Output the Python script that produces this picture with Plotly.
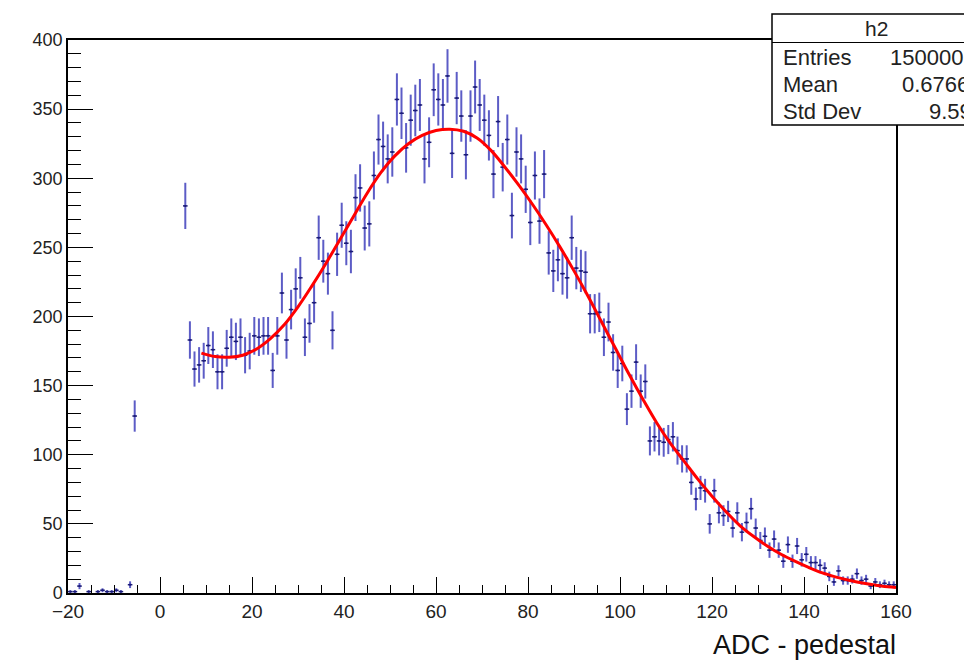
import numpy as np
import plotly.graph_objects as go

# ---------------- data ----------------
bin_centers = [b + 0.5 for b in range(-20, 160)]
counts = [
    1, 1, 5, 0, 1, 0, 1, 2, 1, 1,            # -19.5 .. -10.5
    2, 1, 0, 6, 128, 0, 0, 0, 0, 0,          # -9.5 .. -0.5
    0, 0, 0, 0, 0, 280, 183, 162, 165, 168,  # 0.5 .. 9.5
    179, 176, 160, 160, 177, 185, 182, 185, 172, 175,  # 10.5 .. 19.5
    186, 185, 186, 186, 161, 186, 217, 183, 205, 220,  # 20.5 .. 29.5
    228, 185, 195, 210, 257, 240, 231, 190, 245, 266,  # 30.5 .. 39.5
    253, 247, 286, 293, 264, 267, 302, 328, 323, 314,  # 40.5 .. 49.5
    319, 357, 347, 322, 342, 349, 353, 314, 326, 364,  # 50.5 .. 59.5
    357, 353, 374, 318, 358, 345, 317, 345, 366, 353,  # 60.5 .. 69.5
    342, 331, 303, 341, 308, 328, 273, 319, 314, 292,  # 70.5 .. 79.5
    268, 302, 269, 303, 246, 233, 241, 231, 228, 257,  # 80.5 .. 89.5
    235, 233, 232, 202, 202, 203, 185, 196, 174, 161,  # 90.5 .. 99.5
    166, 133, 146, 167, 146, 153, 110, 113, 110, 109,  # 100.5 .. 109.5
    111, 113, 103, 97, 97, 80, 68, 76, 74, 50,         # 110.5 .. 119.5
    74, 58, 56, 59, 47, 58, 44, 51, 61, 47,            # 120.5 .. 129.5
    38, 41, 31, 39, 31, 23, 35, 23, 34, 24,            # 130.5 .. 139.5
    28, 22, 22, 20, 18, 12, 8, 16, 9, 9,               # 140.5 .. 149.5
    10, 14, 9, 10, 5, 8, 6, 7, 6, 6,                   # 150.5 .. 159.5
]

fit_x = [9, 12, 15, 18, 21, 24, 27, 30, 33, 36, 39, 42, 45, 48, 51, 54, 57, 60,
         63, 66, 69, 72, 75, 78, 81, 84, 87, 90, 93, 96, 99, 102, 105, 108, 111,
         114, 117, 120, 123, 126, 129, 132, 135, 138, 141, 144, 147, 150, 153,
         156, 159, 160]
fit_y = [173.5, 171, 170.5, 172, 176.5, 184, 194, 207, 222, 238, 255, 272, 289,
         304, 316, 325, 331, 334.5, 335.5, 334, 329, 320, 308, 295, 281, 266,
         250, 233, 215, 196, 177, 158, 140, 123, 108, 95, 82, 70, 59, 49, 41,
         34, 28, 23, 18.5, 14.5, 11.5, 9, 7, 5.5, 4.3, 4]

x_ticks = [-20, 0, 20, 40, 60, 80, 100, 120, 140, 160]
x_ticktext = ["\u221220", "0", "20", "40", "60", "80", "100", "120", "140", "160"]
y_ticks = [0, 50, 100, 150, 200, 250, 300, 350, 400]

stats_title = "h2"
stats_labels = ["Entries", "Mean", "Std Dev"]
stats_values = ["1500001", "0.6766", "9.59"]
x_title = "ADC - pedestal"

# ---------------- figure ----------------
FONT = "Liberation Sans, Arial, Helvetica, sans-serif"
W, H = 964, 660
L, R, T, B = 68, 896, 40, 593

def px(xp):
    return (xp - L) / (R - L)

def py(yp):
    return (B - yp) / (B - T)

yv = [c if c > 0 else None for c in counts]
err = [float(np.sqrt(c)) if c > 0 else 0 for c in counts]

fig = go.Figure()
fig.add_trace(go.Scatter(
    x=bin_centers, y=yv, mode="markers",
    marker=dict(color="#1c1c78", size=2),
    error_y=dict(type="data", array=err, visible=True, color="#5c5cc6",
                 thickness=2, width=0),
    error_x=dict(type="constant", value=0.5, visible=True, color="#1c1c78",
                 thickness=1.5, width=0),
    showlegend=False, hoverinfo="x+y",
))
fig.add_trace(go.Scatter(
    x=fit_x, y=fit_y, mode="lines", line=dict(color="#ff0000", width=3, shape="spline"),
    showlegend=False,
))

axis_common = dict(showgrid=False, zeroline=False, showline=True, linecolor="black",
                   linewidth=1.5, mirror=True, ticks="inside", tickcolor="black",
                   tickwidth=1.3)
fig.update_xaxes(range=[-20, 160], tickvals=x_ticks, ticktext=x_ticktext, ticklen=16,
                 tickfont=dict(family=FONT, size=19, color="#222"),
                 minor=dict(ticks="inside", dtick=5, ticklen=8, tickcolor="black",
                            tickwidth=1.3, showgrid=False),
                 **axis_common)
fig.update_yaxes(range=[0, 400], tickvals=y_ticks, ticklen=25,
                 tickfont=dict(family=FONT, size=18, color="#222"),
                 minor=dict(ticks="inside", dtick=10, ticklen=13, tickcolor="black",
                            tickwidth=1.3, showgrid=False),
                 **axis_common)

# stats box
fig.add_shape(type="rect", xref="paper", yref="paper", x0=px(772), x1=px(1000),
              y0=py(125), y1=py(14), line=dict(color="black", width=1.5),
              fillcolor="white", layer="above")
fig.add_shape(type="line", xref="paper", yref="paper", x0=px(772), x1=px(1000),
              y0=py(42.5), y1=py(42.5), line=dict(color="black", width=1.2),
              layer="above")
fig.add_annotation(xref="paper", yref="paper", x=px(876), y=py(29), text=stats_title,
                   showarrow=False, xanchor="center", yanchor="middle",
                   font=dict(family=FONT, size=21, color="#222"))
row_y = [57, 84, 111]
val_x = [888, 900, 927]
for lab, val, yy, vx in zip(stats_labels, stats_values, row_y, val_x):
    fig.add_annotation(xref="paper", yref="paper", x=px(781), y=py(yy), text=lab,
                       showarrow=False, xanchor="left", yanchor="middle",
                       font=dict(family=FONT, size=22, color="#222"))
    fig.add_annotation(xref="paper", yref="paper", x=px(vx), y=py(yy), text=val,
                       showarrow=False, xanchor="left", yanchor="middle",
                       font=dict(family=FONT, size=22, color="#222"))

fig.add_annotation(xref="paper", yref="paper", x=px(898), y=py(645), text=x_title,
                   showarrow=False, xanchor="right", yanchor="middle",
                   font=dict(family=FONT, size=27, color="#111"))

fig.update_layout(width=W, height=H, margin=dict(l=L, r=W - R, t=T, b=H - B),
                  plot_bgcolor="white", paper_bgcolor="white")

fig.write_html("out.html", config={"displayModeBar": False},
               post_script="document.body.style.margin='0';"
                           "document.body.style.overflow='hidden';")
